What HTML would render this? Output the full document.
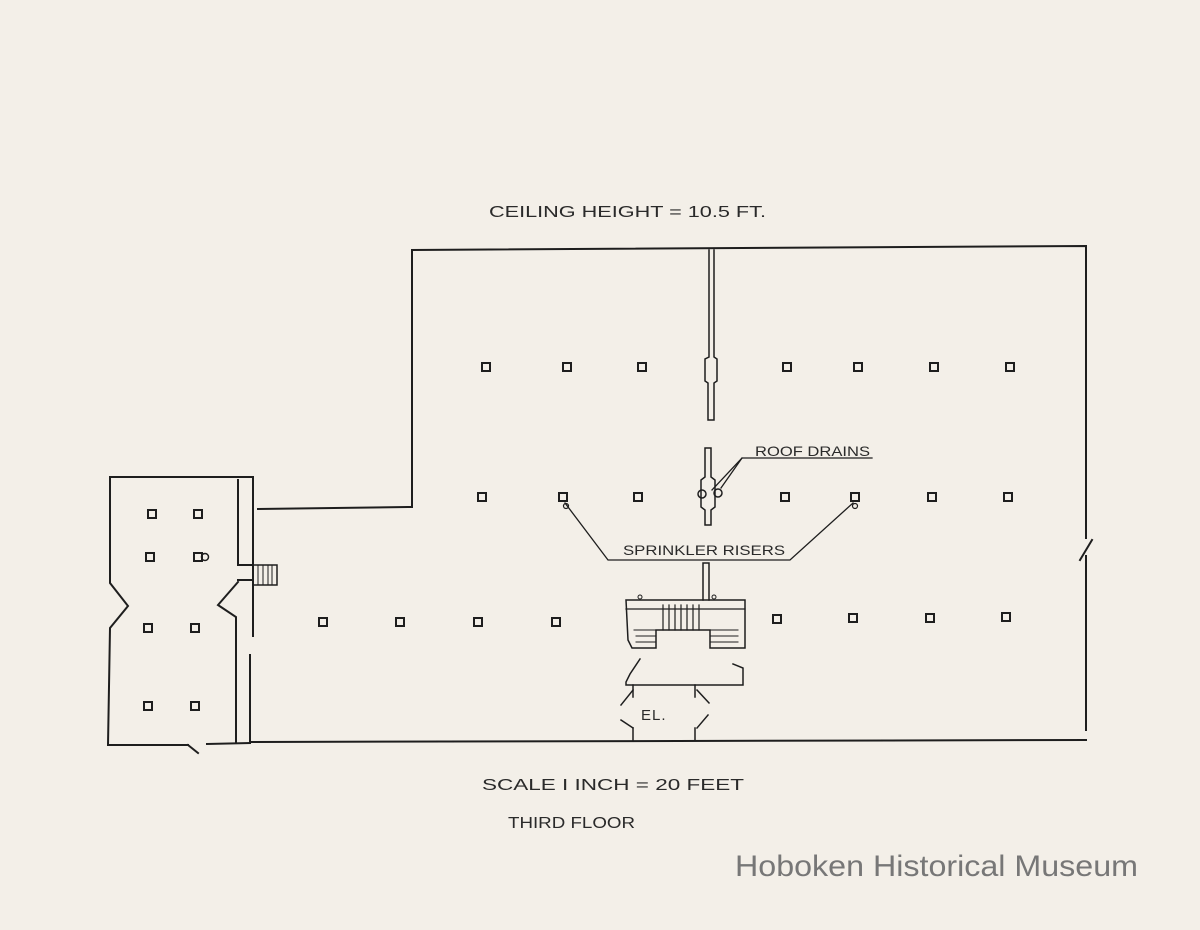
<!DOCTYPE html>
<html><head><style>
html,body{margin:0;padding:0;background:#f3efe8;}
svg{display:block}
text{font-family:"Liberation Sans",sans-serif;fill:#2a2a2a;}
</style></head><body>
<svg width="1200" height="930" viewBox="0 0 1200 930" xmlns="http://www.w3.org/2000/svg">
<rect width="1200" height="930" fill="#f3efe8"/>
<g stroke="#1e1e1e" stroke-width="2" fill="none" stroke-linecap="square">
<polyline points="258,509 408,507 412,507 412,250 1086,246 1086,538"/>
<polyline points="1086,556 1086,730"/>
<line x1="1080" y1="560" x2="1092" y2="540"/>
<line x1="250" y1="742" x2="1086" y2="740"/>
<polyline points="253,477 110,477 110,583 128,606 110,628 108,745 188,745"/>
<line x1="188" y1="745" x2="198" y2="753"/>
<line x1="207" y1="744" x2="250" y2="743"/>
<line x1="238" y1="480" x2="238" y2="565"/>
<polyline points="238,565 253,565"/>
<polyline points="238,580 253,580"/>
<line x1="253" y1="477" x2="253" y2="636"/>
<polyline points="238,582 218,605 236,617 236,742"/>
<line x1="250" y1="655" x2="250" y2="742"/>
<rect x="253" y="565" width="24" height="20" stroke-width="1.5"/>
<line x1="258" y1="565" x2="258" y2="585" stroke-width="1"/>
<line x1="263" y1="565" x2="263" y2="585" stroke-width="1"/>
<line x1="268" y1="565" x2="268" y2="585" stroke-width="1"/>
<line x1="272" y1="565" x2="272" y2="585" stroke-width="1"/>
<polyline points="709,250 709,357 705,359 705,381 708,383 708,420 714,420 714,383 717,381 717,359 714,357 714,250" stroke-width="1.5"/>
<polyline points="705,448 705,477 701,480 701,507 705,510 705,525 711,525 711,510 715,507 715,480 711,477 711,448 705,448" stroke-width="1.5"/>
<circle cx="702" cy="494" r="4" stroke-width="1.5"/>
<circle cx="718" cy="493" r="4" stroke-width="1.5"/>
<polyline points="703,600 703,563 709,563 709,600" stroke-width="1.5"/>
<path d="M626,600 L745,600 L745,648 L710,648 L710,630 L656,630 L656,648 L632,648 L628,640 L626,600 Z" stroke-width="1.5"/>
<line x1="626" y1="609" x2="745" y2="609" stroke-width="1.2"/>
<line x1="634" y1="630" x2="656" y2="630" stroke-width="1"/>
<line x1="636" y1="636" x2="656" y2="636" stroke-width="1"/>
<line x1="636" y1="642" x2="656" y2="642" stroke-width="1"/>
<line x1="710" y1="630" x2="738" y2="630" stroke-width="1"/>
<line x1="710" y1="636" x2="738" y2="636" stroke-width="1"/>
<line x1="710" y1="642" x2="738" y2="642" stroke-width="1"/>
<g stroke-width="1.2">
<line x1="663" y1="605" x2="663" y2="630"/><line x1="669" y1="605" x2="669" y2="630"/>
<line x1="675" y1="605" x2="675" y2="630"/><line x1="681" y1="605" x2="681" y2="630"/>
<line x1="687" y1="605" x2="687" y2="630"/><line x1="693" y1="605" x2="693" y2="630"/>
<line x1="699" y1="605" x2="699" y2="630"/>
</g>
<circle cx="640" cy="597" r="2" stroke-width="1"/><circle cx="714" cy="597" r="2" stroke-width="1"/>
<path d="M640,659 L630,674 L626,682 L626,685 L743,685 L743,668 L733,664" stroke-width="1.5"/>
<line x1="633" y1="685" x2="633" y2="697" stroke-width="1.5"/>
<line x1="695" y1="685" x2="695" y2="697" stroke-width="1.5"/>
<line x1="633" y1="690" x2="621" y2="705" stroke-width="1.5"/>
<line x1="697" y1="690" x2="709" y2="703" stroke-width="1.5"/>
<line x1="621" y1="720" x2="633" y2="728" stroke-width="1.5"/>
<line x1="708" y1="715" x2="697" y2="728" stroke-width="1.5"/>
<line x1="633" y1="728" x2="633" y2="740" stroke-width="1.5"/>
<line x1="695" y1="728" x2="695" y2="740" stroke-width="1.5"/>
<g stroke-width="1.3">
<polyline points="872,458 742,458 712,490"/>
<line x1="742" y1="458" x2="721" y2="488"/>
<polyline points="565,503 608,560 790,560 853,503"/>
</g>
<circle cx="566" cy="506" r="2.5" stroke-width="1.2"/>
<circle cx="855" cy="506" r="2.5" stroke-width="1.2"/>
</g>
<g fill="#f3efe8" stroke="#1e1e1e" stroke-width="2">
<rect x="482" y="363" width="8" height="8"/><rect x="563" y="363" width="8" height="8"/><rect x="638" y="363" width="8" height="8"/>
<rect x="783" y="363" width="8" height="8"/><rect x="854" y="363" width="8" height="8"/><rect x="930" y="363" width="8" height="8"/><rect x="1006" y="363" width="8" height="8"/>
<rect x="478" y="493" width="8" height="8"/><rect x="559" y="493" width="8" height="8"/><rect x="634" y="493" width="8" height="8"/>
<rect x="781" y="493" width="8" height="8"/><rect x="851" y="493" width="8" height="8"/><rect x="928" y="493" width="8" height="8"/><rect x="1004" y="493" width="8" height="8"/>
<rect x="319" y="618" width="8" height="8"/><rect x="396" y="618" width="8" height="8"/><rect x="474" y="618" width="8" height="8"/><rect x="552" y="618" width="8" height="8"/>
<rect x="773" y="615" width="8" height="8"/><rect x="849" y="614" width="8" height="8"/><rect x="926" y="614" width="8" height="8"/><rect x="1002" y="613" width="8" height="8"/>
<rect x="148" y="510" width="8" height="8"/><rect x="194" y="510" width="8" height="8"/>
<rect x="146" y="553" width="8" height="8"/><rect x="194" y="553" width="8" height="8"/>
<rect x="144" y="624" width="8" height="8"/><rect x="191" y="624" width="8" height="8"/>
<rect x="144" y="702" width="8" height="8"/><rect x="191" y="702" width="8" height="8"/>
</g>
<circle cx="205" cy="557" r="3.5" fill="none" stroke="#1e1e1e" stroke-width="1.5"/>
<text x="489" y="217" font-size="16" textLength="277" lengthAdjust="spacingAndGlyphs">CEILING  HEIGHT = 10.5 FT.</text>
<text x="755" y="456" font-size="14" textLength="115" lengthAdjust="spacingAndGlyphs">ROOF DRAINS</text>
<text x="623" y="555" font-size="14" textLength="162" lengthAdjust="spacingAndGlyphs">SPRINKLER RISERS</text>
<text x="641" y="720" font-size="15" letter-spacing="1">EL.</text>
<text x="482" y="790" font-size="16" textLength="262" lengthAdjust="spacingAndGlyphs">SCALE I INCH = 20 FEET</text>
<text x="508" y="828" font-size="16" textLength="127" lengthAdjust="spacingAndGlyphs">THIRD FLOOR</text>
<text x="735" y="876" font-size="30" textLength="403" lengthAdjust="spacingAndGlyphs" style="fill:#777">Hoboken Historical Museum</text>
</svg>
</body></html>
